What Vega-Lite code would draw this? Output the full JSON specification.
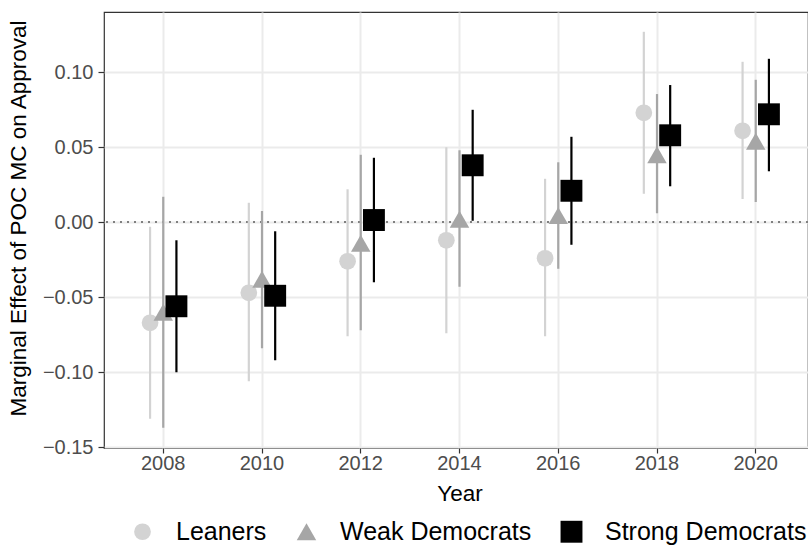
{
  "$schema": "https://vega.github.io/schema/vega-lite/v6.json",
  "width": 704,
  "height": 436,
  "autosize": {"type": "none"},
  "padding": {"left": 104, "top": 12, "right": 0, "bottom": 98},
  "background": "white",
  "config": {
    "font": "Liberation Sans",
    "view": {"stroke": "#333333", "strokeWidth": 1.2},
    "axis": {
      "domain": false,
      "tickColor": "#333333",
      "tickWidth": 1.2,
      "labelColor": "#4D4D4D",
      "labelFont": "Liberation Sans",
      "labelFontSize": 20,
      "titleFont": "Liberation Sans",
      "titleFontSize": 22.5,
      "titleFontWeight": "normal",
      "titleColor": "#000000",
      "gridColor": "#EBEBEB"
    },
    "legend": {
      "labelFont": "Liberation Sans",
      "labelFontSize": 25,
      "labelColor": "#000000",
      "labelLimit": 400
    }
  },
  "data": {
    "values": [
      {"year": "2008", "series": "Leaners", "est": -0.067, "lo": -0.131, "hi": -0.003},
      {"year": "2008", "series": "Weak Democrats", "est": -0.060, "lo": -0.137, "hi": 0.017},
      {"year": "2008", "series": "Strong Democrats", "est": -0.056, "lo": -0.100, "hi": -0.012},
      {"year": "2010", "series": "Leaners", "est": -0.047, "lo": -0.106, "hi": 0.013},
      {"year": "2010", "series": "Weak Democrats", "est": -0.038, "lo": -0.084, "hi": 0.0075},
      {"year": "2010", "series": "Strong Democrats", "est": -0.049, "lo": -0.092, "hi": -0.006},
      {"year": "2012", "series": "Leaners", "est": -0.026, "lo": -0.076, "hi": 0.022},
      {"year": "2012", "series": "Weak Democrats", "est": -0.014, "lo": -0.072, "hi": 0.045},
      {"year": "2012", "series": "Strong Democrats", "est": 0.0015, "lo": -0.040, "hi": 0.043},
      {"year": "2014", "series": "Leaners", "est": -0.012, "lo": -0.074, "hi": 0.050},
      {"year": "2014", "series": "Weak Democrats", "est": 0.002, "lo": -0.043, "hi": 0.048},
      {"year": "2014", "series": "Strong Democrats", "est": 0.038, "lo": 0.001, "hi": 0.075},
      {"year": "2016", "series": "Leaners", "est": -0.024, "lo": -0.076, "hi": 0.029},
      {"year": "2016", "series": "Weak Democrats", "est": 0.0044, "lo": -0.031, "hi": 0.040},
      {"year": "2016", "series": "Strong Democrats", "est": 0.021, "lo": -0.015, "hi": 0.057},
      {"year": "2018", "series": "Leaners", "est": 0.073, "lo": 0.019, "hi": 0.127},
      {"year": "2018", "series": "Weak Democrats", "est": 0.045, "lo": 0.006, "hi": 0.0855},
      {"year": "2018", "series": "Strong Democrats", "est": 0.058, "lo": 0.024, "hi": 0.0915},
      {"year": "2020", "series": "Leaners", "est": 0.061, "lo": 0.0155, "hi": 0.107},
      {"year": "2020", "series": "Weak Democrats", "est": 0.054, "lo": 0.0135, "hi": 0.095},
      {"year": "2020", "series": "Strong Democrats", "est": 0.072, "lo": 0.034, "hi": 0.109}
    ]
  },
  "layer": [
    {
      "mark": {"type": "rule", "color": "#808080", "strokeWidth": 1.6, "strokeDash": [2, 5]},
      "encoding": {
        "y": {"datum": 0, "type": "quantitative"}
      }
    },
    {
      "mark": {"type": "rule", "strokeWidth": 2.2, "strokeCap": "butt"},
      "encoding": {
        "x": {"field": "year", "type": "ordinal"},
        "xOffset": {
          "field": "series",
          "type": "nominal",
          "sort": ["Leaners", "Weak Democrats", "Strong Democrats"]
        },
        "y": {"field": "lo", "type": "quantitative"},
        "y2": {"field": "hi"},
        "color": {"field": "series", "type": "nominal"}
      }
    },
    {
      "mark": {"type": "point", "filled": true, "opacity": 1, "strokeWidth": 0},
      "encoding": {
        "x": {
          "field": "year",
          "type": "ordinal",
          "scale": {"range": [0, 711], "paddingInner": 0, "paddingOuter": 0.1},
          "axis": {
            "title": "Year",
            "labelAngle": 0,
            "labelAlign": "center",
            "bandPosition": 0.5,
            "grid": true,
            "gridWidth": 2,
            "tickSize": 5,
            "labelPadding": 10,
            "titlePadding": 9
          }
        },
        "xOffset": {
          "field": "series",
          "type": "nominal",
          "sort": ["Leaners", "Weak Democrats", "Strong Democrats"],
          "scale": {
            "type": "point",
            "domain": ["Leaners", "Weak Democrats", "Strong Democrats"],
            "padding": 0,
            "range": [36.2, 62.55]
          }
        },
        "y": {
          "field": "est",
          "type": "quantitative",
          "scale": {"domain": [-0.1505, 0.1402], "nice": false, "zero": false},
          "axis": {
            "title": "Marginal Effect of POC MC on Approval",
            "titleY": 206,
            "values": [-0.15, -0.125, -0.1, -0.075, -0.05, -0.025, 0, 0.025, 0.05, 0.075, 0.1, 0.125],
            "labelExpr": "abs(datum.value * 20 - round(datum.value * 20)) < 0.001 ? format(datum.value, '.2f') : ''",
            "grid": true,
            "gridWidth": {"condition": {"test": "abs(datum.value * 20 - round(datum.value * 20)) < 0.001", "value": 2}, "value": 1},
            "tickSize": {"condition": {"test": "abs(datum.value * 20 - round(datum.value * 20)) < 0.001", "value": 6}, "value": 0},
            "labelPadding": 5,
            "titlePadding": 12
          }
        },
        "color": {
          "field": "series",
          "type": "nominal",
          "scale": {
            "domain": ["Leaners", "Weak Democrats", "Strong Democrats"],
            "range": ["#D3D3D3", "#A6A6A6", "#000000"]
          },
          "legend": {
            "title": null,
            "orient": "none",
            "direction": "horizontal",
            "padding": 0,
            "legendX": 26,
            "legendY": 507,
            "labelOffset": 21,
            "columnPadding": 27,
            "symbolStrokeWidth": 0
          }
        },
        "shape": {
          "field": "series",
          "type": "nominal",
          "scale": {
            "domain": ["Leaners", "Weak Democrats", "Strong Democrats"],
            "range": ["circle", "triangle-up", "square"]
          }
        },
        "size": {
          "field": "series",
          "type": "nominal",
          "scale": {
            "domain": ["Leaners", "Weak Democrats", "Strong Democrats"],
            "range": [280, 480, 330]
          }
        }
      }
    }
  ]
}
